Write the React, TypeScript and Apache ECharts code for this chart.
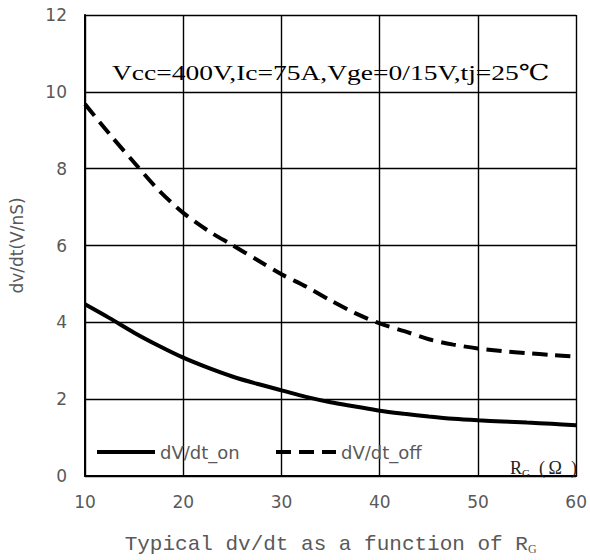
import React, { useEffect, useRef } from "react";
import * as echarts from "echarts";

const rg = [10, 12.5, 15, 17.5, 20, 22.5, 25, 27.5, 30, 32.5, 35, 37.5, 40, 42.5, 45, 47.5, 50, 52.5, 55, 57.5, 60];
const dvdtOn = [4.47, 4.11, 3.73, 3.39, 3.08, 2.82, 2.59, 2.4, 2.23, 2.06, 1.92, 1.81, 1.7, 1.62, 1.55, 1.49, 1.45, 1.42, 1.39, 1.36, 1.32];
const dvdtOff = [9.68, 8.9, 8.16, 7.44, 6.85, 6.39, 6.01, 5.63, 5.25, 4.93, 4.57, 4.24, 3.97, 3.77, 3.56, 3.42, 3.32, 3.25, 3.2, 3.15, 3.11];
const seriesNames = ["dV/dt_on", "dV/dt_off"];
const conditionText = "Vcc=400V,Ic=75A,Vge=0/15V,tj=25\u2103";

export default function App() {
  const ref = useRef<HTMLDivElement>(null);
  useEffect(() => {
    if (!ref.current) return;
    const chart = echarts.init(ref.current, null, { renderer: "svg" });
    const gray = "#595959";
    const labelFont = "'DejaVu Sans', sans-serif";
    const legendBase = {
      top: 443,
      padding: 0,
      itemWidth: 58,
      itemHeight: 14,
      itemGap: 5,
      itemStyle: { opacity: 0 },
      lineStyle: { width: 4 },
      textStyle: { color: gray, fontSize: 18, fontFamily: labelFont },
    };
    chart.setOption({
      animation: false,
      backgroundColor: "#fff",
      grid: { left: 85, right: 13, top: 15, bottom: 71, containLabel: false },
      legend: [
        { ...legendBase, left: 95, data: [seriesNames[0]] },
        { ...legendBase, left: 274, itemWidth: 60, data: [seriesNames[1]] },
      ],
      xAxis: {
        type: "value",
        min: 10,
        max: 60,
        interval: 10,
        axisLine: { show: true, lineStyle: { color: "#000", width: 2 } },
        axisTick: { show: false },
        axisLabel: { color: gray, fontSize: 17, fontFamily: labelFont, margin: 17 },
        splitLine: { show: true, lineStyle: { color: "#000", width: 1.4 } },
        name: "{t|Typical dv/dt as a function of R}{s|G}",
        nameLocation: "middle",
        nameGap: 57,
        nameTextStyle: {
          rich: {
            t: { fontFamily: "'Liberation Mono', monospace", fontSize: 21, color: gray },
            s: { fontFamily: "'Liberation Serif', serif", fontSize: 12, color: gray, padding: [10, 0, 0, 0] },
          },
        },
      },
      yAxis: {
        type: "value",
        min: 0,
        max: 12,
        interval: 2,
        axisLine: { show: true, lineStyle: { color: "#000", width: 2 } },
        axisTick: { show: false },
        axisLabel: { color: gray, fontSize: 17, fontFamily: labelFont, margin: 18 },
        splitLine: { show: true, lineStyle: { color: "#000", width: 1.4 } },
        name: "dv/dt(V/nS)",
        nameLocation: "middle",
        nameGap: 60,
        nameTextStyle: { color: gray, fontSize: 17, fontFamily: labelFont },
      },
      graphic: [
        {
          type: "text",
          x: 112,
          y: 72,
          scaleX: 1.25,
          style: {
            text: conditionText,
            fontFamily: "'Liberation Serif', 'DejaVu Serif', serif",
            fontSize: 22,
            fill: "#000",
            verticalAlign: "middle",
          },
          z: 10,
        },
        {
          type: "text",
          x: 510,
          y: 468,
          style: {
            text: "{r|R}{g|G}{r|\u2002(\u2009\u03a9\u2002)}",
            verticalAlign: "middle",
            rich: {
              r: { fontFamily: "'Liberation Serif', serif", fontSize: 18, fill: "#222" },
              g: { fontFamily: "'Liberation Serif', serif", fontSize: 11, fill: "#222", padding: [9, 0, 0, 0] },
            },
          },
          z: 10,
        },
      ],
      series: [
        {
          name: seriesNames[0],
          type: "line",
          smooth: 0.3,
          symbol: "none",
          data: rg.map((x, i) => [x, dvdtOn[i]]),
          lineStyle: { color: "#000", width: 4 },
          itemStyle: { color: "#000" },
          z: 5,
        },
        {
          name: seriesNames[1],
          type: "line",
          smooth: 0.3,
          symbol: "none",
          data: rg.map((x, i) => [x, dvdtOff[i]]),
          lineStyle: { color: "#000", width: 4, type: [15, 8] },
          itemStyle: { color: "#000" },
          z: 5,
        },
      ],
    });
    return () => chart.dispose();
  }, []);
  return (
    <div
      ref={ref}
      style={{ position: "absolute", left: 0, top: 0, width: 590, height: 560 }}
    />
  );
}
